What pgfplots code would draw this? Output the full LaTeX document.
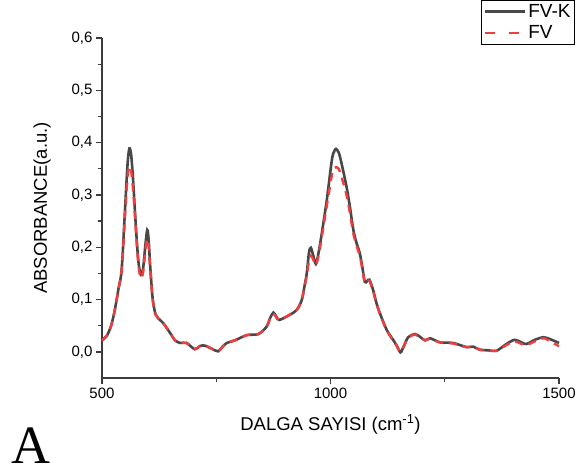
\documentclass[border=0pt]{standalone}
\usepackage{pgfplots}
\pgfplotsset{compat=1.18}
\usepackage{fontspec}
\setmainfont{Liberation Sans}
\newfontfamily\serifA{Liberation Serif}
\definecolor{curvegray}{RGB}{72,72,72}
\definecolor{curvered}{RGB}{240,62,62}
\definecolor{axgray}{RGB}{60,60,60}
\pgfplotstableread{
x y
500 0.022
510 0.030
520 0.050
528 0.080
536 0.120
543 0.157
550 0.266
556 0.360
560 0.389
564 0.375
568 0.329
572 0.270
576 0.214
580 0.170
585 0.147
590 0.160
595 0.205
599 0.233
602 0.215
605 0.170
609 0.120
612 0.094
617 0.072
623 0.064
634 0.055
649 0.036
660 0.022
671 0.017
685 0.017
703 0.005
714 0.011
725 0.012
740 0.006
754 0.001
763 0.009
773 0.017
791 0.022
817 0.032
842 0.034
860 0.048
868 0.065
875 0.075
881 0.068
888 0.061
911 0.071
926 0.080
937 0.099
944 0.130
948 0.150
953 0.190
957 0.199
962 0.185
968 0.168
974 0.190
981 0.227
992 0.291
1003 0.367
1008 0.383
1012 0.388
1018 0.381
1024 0.361
1035 0.316
1042 0.280
1050 0.233
1058 0.205
1064 0.189
1070 0.160
1075 0.134
1080 0.135
1085 0.138
1093 0.119
1100 0.095
1108 0.074
1123 0.042
1137 0.023
1145 0.012
1153 -0.001
1160 0.010
1170 0.028
1185 0.034
1197 0.028
1207 0.022
1218 0.026
1240 0.018
1268 0.017
1298 0.009
1312 0.010
1327 0.004
1345 0.003
1363 0.002
1385 0.015
1403 0.023
1418 0.018
1429 0.015
1447 0.023
1467 0.028
1484 0.023
1500 0.017
}\fvk
\pgfplotstableread{
x y
500 0.022
510 0.030
520 0.050
528 0.080
536 0.120
543 0.157
550 0.255
556 0.335
560 0.355
564 0.345
568 0.310
572 0.262
576 0.208
580 0.164
585 0.141
590 0.152
595 0.195
599 0.216
602 0.205
605 0.165
609 0.118
612 0.093
617 0.072
623 0.064
634 0.055
649 0.036
660 0.022
671 0.017
685 0.017
703 0.005
714 0.011
725 0.012
740 0.006
754 0.001
763 0.009
773 0.017
791 0.022
817 0.032
842 0.034
860 0.048
868 0.064
875 0.073
881 0.067
888 0.061
911 0.071
926 0.080
937 0.099
944 0.128
948 0.145
953 0.175
957 0.184
962 0.177
968 0.166
974 0.185
981 0.220
992 0.280
1003 0.338
1008 0.351
1012 0.353
1018 0.350
1024 0.335
1035 0.300
1042 0.268
1050 0.226
1058 0.200
1064 0.184
1070 0.157
1075 0.132
1080 0.133
1085 0.136
1093 0.117
1100 0.094
1108 0.073
1123 0.041
1137 0.022
1145 0.011
1153 0.000
1160 0.010
1170 0.027
1185 0.033
1197 0.027
1207 0.022
1218 0.025
1240 0.018
1268 0.016
1298 0.009
1312 0.010
1327 0.004
1345 0.003
1363 0.002
1385 0.013
1403 0.020
1418 0.015
1429 0.013
1447 0.020
1467 0.026
1484 0.018
1500 0.011
}\fv
\begin{document}
\begin{tikzpicture}
\begin{axis}[
  scale only axis,
  width=457pt, height=340pt,
  xmin=500, xmax=1500,
  ymin=-0.05, ymax=0.6,
  axis x line=bottom, axis y line=left,
  axis line style={-, axgray, line width=1.6pt},
  tick style={axgray, line width=1.3pt},
  tick align=outside,
  major tick length=6pt, minor tick length=4pt,
  xtick={500,1000,1500}, minor x tick num=1,
  ytick={0,0.1,0.2,0.3,0.4,0.5,0.6}, minor y tick num=1,
  /pgf/number format/assume math mode=true,
  xticklabel style={font=\fontsize{15}{15}\selectfont, /pgf/number format/1000 sep={}},
  yticklabel style={font=\fontsize{15}{15}\selectfont, /pgf/number format/.cd, fixed, fixed zerofill, precision=1, use comma},
  xlabel={DALGA SAYISI (cm\textsuperscript{-1})},
  ylabel={ABSORBANCE(a.u.)},
  label style={font=\fontsize{18.5}{18.5}\selectfont},
  xlabel style={yshift=-10pt},
  ylabel style={yshift=14pt},
  clip=false,
  legend style={at={(1.035,1.112)}, anchor=north east, draw=black, line width=0.8pt,
    font=\fontsize{19}{19}\selectfont, inner sep=2pt, row sep=3pt},
  legend cell align=left,
  legend image code/.code={\draw[#1] (0pt,0pt) -- (40pt,0pt);},
]
\addplot[curvegray, line width=2.6pt, smooth, tension=0.5] table {\fvk};
\addlegendentry{FV-K}
\addplot[curvered, line width=2.4pt, dash pattern=on 8pt off 6pt, smooth, tension=0.5,
  forget plot] table {\fv};
\addlegendimage{curvered, line width=2.4pt, dash pattern=on 10pt off 14pt}
\addlegendentry{FV}
\node[font=\serifA\fontsize{54}{54}\selectfont, anchor=base] at (rel axis cs:-0.155,-0.252) {A};
\coordinate (bl) at (rel axis cs:-0.2232,-0.2824);
\coordinate (tr) at (rel axis cs:1.0394,1.1118);
\end{axis}
\pgfresetboundingbox
\path[use as bounding box] (bl) rectangle (tr);
\end{tikzpicture}
\end{document}
